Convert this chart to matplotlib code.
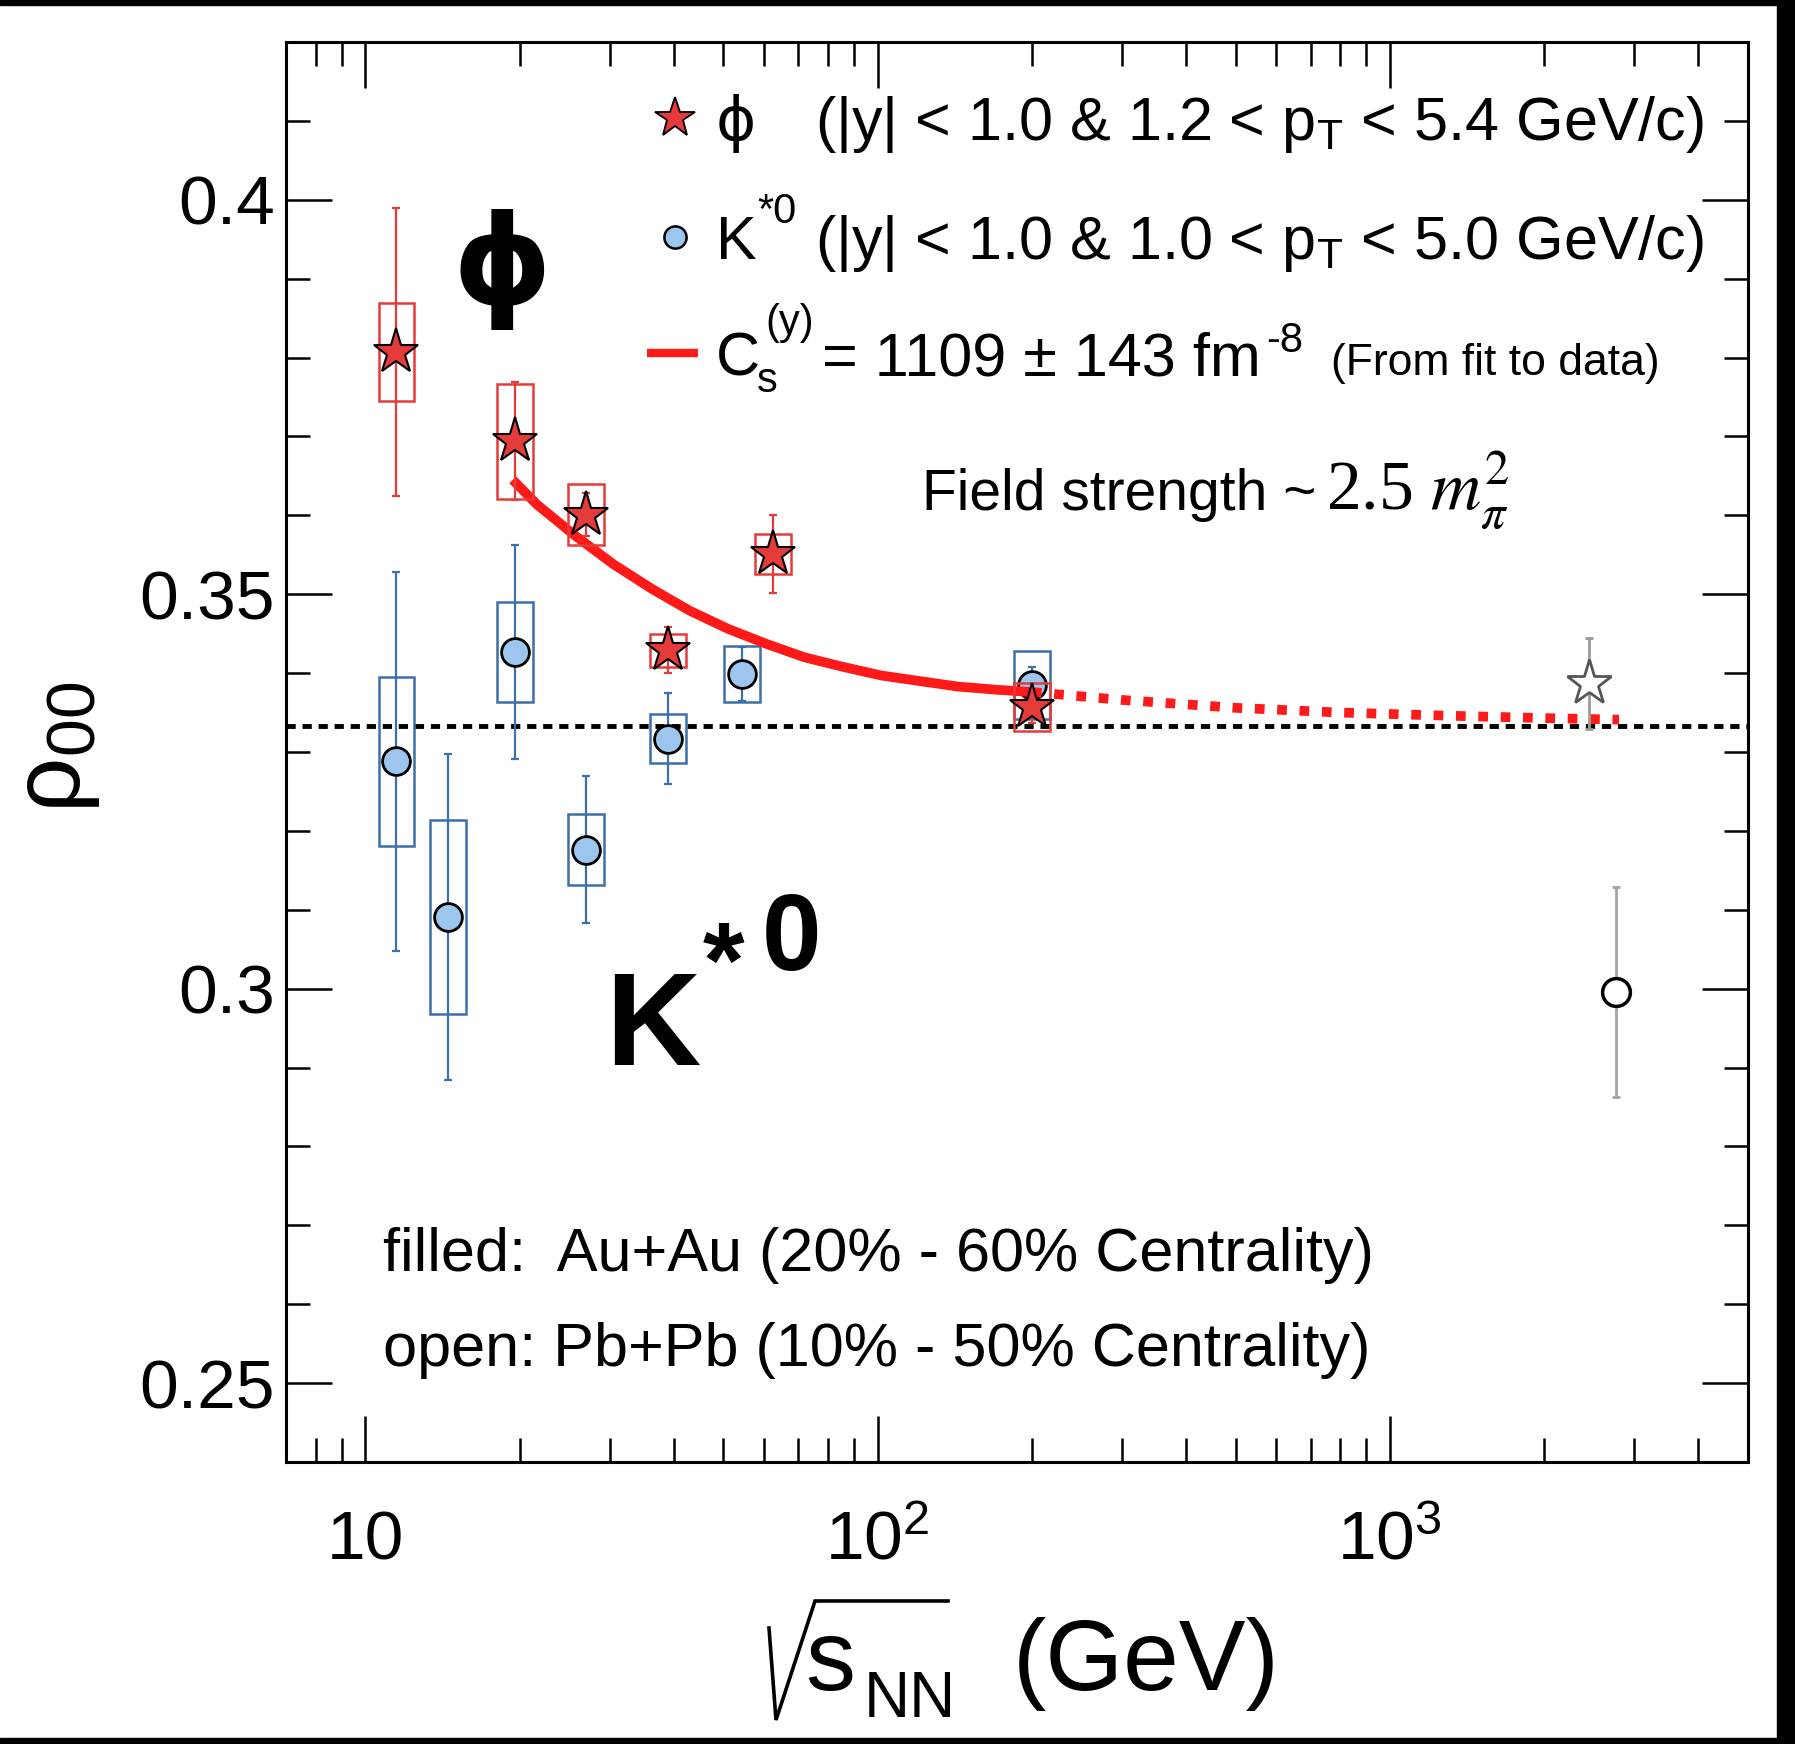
import numpy as np
import matplotlib
matplotlib.use('Agg')
import matplotlib.pyplot as plt
from matplotlib.patches import Rectangle
from matplotlib.ticker import FixedLocator, FixedFormatter, LogLocator, NullFormatter, MultipleLocator, FormatStrFormatter

plt.rcParams['font.family'] = ['Liberation Sans', 'DejaVu Sans']
plt.rcParams['mathtext.fontset'] = 'custom'
plt.rcParams['mathtext.rm'] = 'Liberation Sans'
plt.rcParams['mathtext.it'] = 'Liberation Sans:italic'
plt.rcParams['mathtext.bf'] = 'Liberation Sans:bold'

# phi, Au+Au (filled stars)
phi_energy = [11.5, 19.6, 27, 39, 62.4, 200]
phi_rho = [0.3807, 0.3694, 0.3601, 0.3429, 0.3551, 0.3357]
phi_stat = [0.0183, 0.0075, 0.0027, 0.0029, 0.0050, 0.0020]
phi_sys = [0.0062, 0.0073, 0.0039, 0.0021, 0.0025, 0.0030]

# K*0, Au+Au (filled circles)
kstar_energy = [11.5, 14.5, 19.6, 27, 39, 54.4, 200]
kstar_rho = [0.3288, 0.3091, 0.3427, 0.3176, 0.3317, 0.3399, 0.3385]
kstar_stat = [0.0240, 0.0207, 0.0136, 0.0093, 0.0058, 0.0034, 0.0023]
kstar_sys = [0.0107, 0.0123, 0.0063, 0.0045, 0.0031, 0.0036, 0.0043]

# Pb+Pb (open symbols)
pb_phi_energy = [2450]
pb_phi_rho = [0.3387]
pb_phi_stat = [0.0058]
pb_kstar_energy = [2760]
pb_kstar_rho = [0.2996]
pb_kstar_stat = [0.0133]

# fit curve (solid) and extrapolation (dotted)
fit_energy = [19.4, 21.6, 25.7, 30.5, 36.2, 43.0, 51.1, 60.7, 72.0, 85.5, 101.6, 120.6, 143.2, 170, 200]
fit_rho = [0.3645, 0.3614, 0.3574, 0.3538, 0.3507, 0.3479, 0.3456, 0.3437, 0.3420, 0.3408,
           0.3397, 0.3390, 0.3383, 0.3379, 0.3376]
extrap_energy = [200, 300, 500, 800, 1300, 2000, 2800]
extrap_rho = [0.3376, 0.3366, 0.3356, 0.3350, 0.3346, 0.3343, 0.3341]

rho_unpolarized = 1 / 3

red = '#e63b3b'
red_line = '#ff1a1a'
blue_box = '#3d6fa8'
blue_face = '#9cc6ee'

W, H = 1795, 1744
fig = plt.figure(figsize=(W / 100, H / 100), dpi=100)
ax = fig.add_axes([286 / W, 1 - 1462 / H, (1748 - 286) / W, (1462 - 42) / H])
ax.set_xscale('log')
ax.set_xlim(7, 5000)
ax.set_ylim(0.24, 0.42)

bw = 10 ** 0.035


def sys_boxes(xs, ys, ss, color, z):
    for x, y, s in zip(xs, ys, ss):
        ax.add_patch(Rectangle((x / bw, y - s), x * bw - x / bw, 2 * s, fill=False,
                               ec=color, lw=1.8, zorder=z))


ax.axhline(rho_unpolarized, color='black', lw=3.5, ls=(0, (1.9, 1.4)), zorder=1)

# K*0
sys_boxes(kstar_energy, kstar_rho, kstar_sys, blue_box, 2)
ax.errorbar(kstar_energy, kstar_rho, yerr=kstar_stat, fmt='none', ecolor=blue_box,
            elinewidth=1.6, capsize=3, capthick=1.6, zorder=2)
ax.plot(kstar_energy, kstar_rho, 'o', ms=20, mfc=blue_face, mec='black', mew=2, zorder=3)

# fit
ax.plot(fit_energy, fit_rho, color=red_line, lw=7, solid_capstyle='butt', zorder=4)
ax.plot(extrap_energy, extrap_rho, color=red_line, lw=7, ls=(0, (1.0, 1.3)), zorder=4)

# phi
sys_boxes(phi_energy, phi_rho, phi_sys, red, 5)
ax.errorbar(phi_energy, phi_rho, yerr=phi_stat, fmt='none', ecolor=red,
            elinewidth=1.6, capsize=3, capthick=1.6, zorder=5)
ax.plot(phi_energy, phi_rho, '*', ms=34, mfc=red, mec='black', mew=1.5, zorder=6)

# Pb+Pb
ax.errorbar(pb_phi_energy, pb_phi_rho, yerr=pb_phi_stat, fmt='none', ecolor='#9a9a9a',
            elinewidth=2, capsize=3, capthick=2, zorder=5)
ax.plot(pb_phi_energy, pb_phi_rho, '*', ms=34, mfc='white', mec='#555555', mew=2, zorder=6)
ax.errorbar(pb_kstar_energy, pb_kstar_rho, yerr=pb_kstar_stat, fmt='none', ecolor='#a5a5a5',
            elinewidth=2, capsize=3, capthick=2, zorder=5)
ax.plot(pb_kstar_energy, pb_kstar_rho, 'o', ms=20, mfc='white', mec='black', mew=2.5, zorder=6)

# axes styling
for sp in ax.spines.values():
    sp.set_linewidth(2.2)
ax.xaxis.set_major_locator(FixedLocator([10, 100, 1000]))
ax.xaxis.set_major_formatter(FixedFormatter(['10', r'$10^{2}$', r'$10^{3}$']))
ax.xaxis.set_minor_locator(LogLocator(base=10, subs=np.arange(2, 10), numticks=20))
ax.xaxis.set_minor_formatter(NullFormatter())
ax.yaxis.set_major_locator(MultipleLocator(0.05))
ax.yaxis.set_major_formatter(FormatStrFormatter('%g'))
ax.yaxis.set_minor_locator(MultipleLocator(0.01))
ax.tick_params(which='both', direction='in', top=True, right=True, width=1.8, labelsize=50)
ax.tick_params(which='major', length=33)
ax.tick_params(which='minor', length=17)
ax.tick_params(axis='y', pad=8)
ax.tick_params(axis='x', pad=70)
plt.setp(ax.get_xticklabels(), va='baseline')

# overlay in pixel coordinates for text annotations
ov = fig.add_axes([0, 0, 1, 1], zorder=10)
ov.set_xlim(0, W)
ov.set_ylim(H, 0)
ov.axis('off')
ov.patch.set_alpha(0)

# y label
ov.text(80, 747, r'ρ$_{\rm 00}$', fontsize=70, rotation=90, rotation_mode='anchor',
        ha='center', va='baseline')

# x label: sqrt(s_NN) (GeV)
ov.plot([769, 776, 815, 948], [1628, 1720, 1601, 1601], color='black', lw=2.6,
        solid_joinstyle='miter', clip_on=False)
ov.text(805, 1690, 's', fontsize=72, va='baseline')
ov.text(864, 1717, 'NN', fontsize=46, va='baseline')
ov.text(1013, 1690, '(GeV)', fontsize=72, va='baseline')

# legend
ov.plot([675], [118], '*', ms=30, mfc=red, mec='black', mew=1.3)
ov.plot([675], [237], 'o', ms=16, mfc=blue_face, mec='black', mew=1.8)
ov.plot([647, 698], [353, 353], color=red_line, lw=6, solid_capstyle='butt')
ov.text(716, 140, 'ϕ', fontsize=44, va='baseline', family=['DejaVu Sans'])
ov.text(815, 140, r'(|y| < 1.0 & 1.2 < p$_{\rm T}$ < 5.4 GeV/c)', fontsize=44, va='baseline')
ov.text(716, 259, 'K', fontsize=44, va='baseline')
ov.text(757, 223, '*0', fontsize=30, va='baseline')
ov.text(815, 259, r'(|y| < 1.0 & 1.0 < p$_{\rm T}$ < 5.0 GeV/c)', fontsize=44, va='baseline')
ov.text(716, 375, 'C', fontsize=44, va='baseline')
ov.text(757, 392, 's', fontsize=30, va='baseline')
ov.text(765, 334, '(y)', fontsize=30, va='baseline')
ov.text(822, 375, '= 1109 ± 143 fm', fontsize=44, va='baseline')
ov.text(1266, 352, '-8', fontsize=30, va='baseline')
ov.text(1331, 375, '(From fit to data)', fontsize=32, va='baseline')

ov.text(922, 510, 'Field strength ~', fontsize=41, va='baseline')
ov.text(1326, 510, r'2.5 $m_{\pi}^{2}$', fontsize=50, family='Liberation Serif',
        math_fontfamily='stix', va='baseline')

ov.text(383, 1271, 'filled:  Au+Au (20% - 60% Centrality)', fontsize=44, va='baseline')
ov.text(383, 1366, 'open: Pb+Pb (10% - 50% Centrality)', fontsize=44, va='baseline')

# big particle labels
ov.text(502, 270, 'ϕ', fontsize=90, fontweight='bold', ha='center', va='center',
        family=['DejaVu Sans'])
ov.text(605, 1065, 'K', fontsize=95, fontweight='bold', va='baseline')
ov.text(703, 997, '*', fontsize=77, fontweight='bold', va='baseline')
ov.text(762, 970, '0', fontsize=77, fontweight='bold', va='baseline')

# black frame on top, right and bottom
ov.add_patch(Rectangle((0, 0), W, 5, color='black', clip_on=False))
ov.add_patch(Rectangle((1777, 0), W - 1777, H, color='black', clip_on=False))
ov.add_patch(Rectangle((0, 1738), W, H - 1738, color='black', clip_on=False))

fig.savefig('out.png', dpi=100)
